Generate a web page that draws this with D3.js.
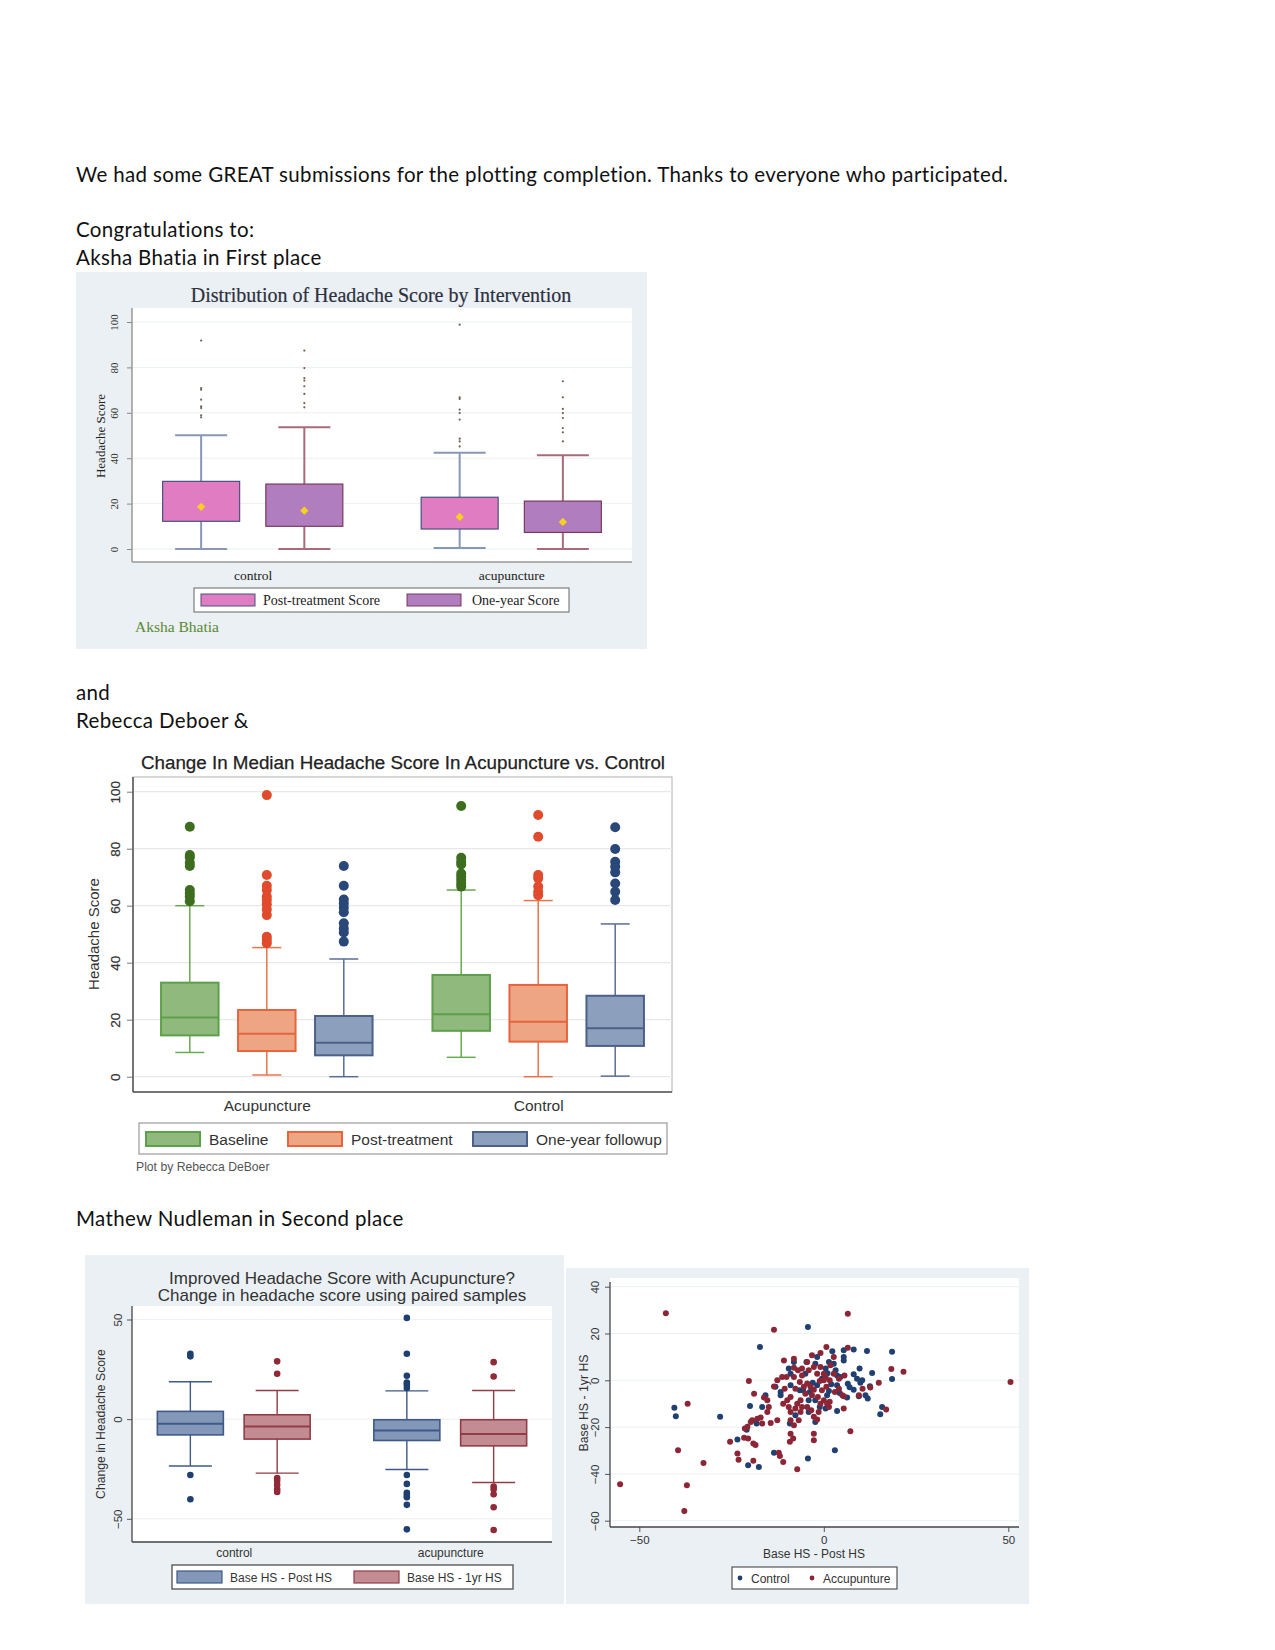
<!DOCTYPE html>
<html>
<head>
<meta charset="utf-8">
<script src="https://cdn.jsdelivr.net/npm/d3@7"></script>
<style>
body { margin: 0; background: #fff; }
svg { display: block; }
</style>
</head>
<body>
<div id="page"></div>
<script>
// ---------- chart 1 data (Aksha Bhatia)
const c1Groups = ["control", "acupuncture"];
const c1Series = ["Post-treatment Score", "One-year Score"];
const c1Ticks = [0, 20, 40, 60, 80, 100];
const c1Boxes = [
  {g: "control", s: "Post-treatment Score", lo: 0, q1: 12.2, q3: 29.8, hi: 50.1, mean: 18.6,
   out: [58, 58.9, 62.1, 62.8, 65.8, 70.2, 70.9, 91.8]},
  {g: "control", s: "One-year Score", lo: 0, q1: 10, q3: 28.6, hi: 53.6, mean: 16.9,
   out: [62.4, 64.3, 68.3, 71.7, 74.2, 75.3, 79.7, 87.4]},
  {g: "acupuncture", s: "Post-treatment Score", lo: 0.4, q1: 8.8, q3: 22.8, hi: 42.4, mean: 14.1,
   out: [45.2, 47.4, 48.6, 57, 59.9, 61.4, 66.1, 66.8, 98.8]},
  {g: "acupuncture", s: "One-year Score", lo: 0, q1: 7.3, q3: 21.1, hi: 41.3, mean: 11.9,
   out: [47.4, 51.4, 53.3, 57.7, 59.9, 61.7, 66.8, 73.9]}
];

// ---------- chart 2 data (Rebecca DeBoer)
const c2Groups = ["Acupuncture", "Control"];
const c2Series = ["Baseline", "Post-treatment", "One-year followup"];
const c2Ticks = [0, 20, 40, 60, 80, 100];
const c2Boxes = [
  {g: "Acupuncture", s: "Baseline", lo: 8.5, q1: 14.5, med: 20.8, q3: 33.0, hi: 60.0,
   out: [61.6, 63.2, 64.3, 65.5, 73.9, 75.1, 77, 77.8, 87.7]},
  {g: "Acupuncture", s: "Post-treatment", lo: 0.6, q1: 9.0, med: 15.1, q3: 23.4, hi: 45.3,
   out: [46.8, 48, 49.1, 56.7, 58.7, 60.5, 62, 63.2, 65.5, 67, 70.8, 98.8]},
  {g: "Acupuncture", s: "One-year followup", lo: 0, q1: 7.5, med: 11.9, q3: 21.3, hi: 41.3,
   out: [47.4, 50.6, 52, 53.8, 57.7, 59.3, 60.8, 62.2, 67, 73.9]},
  {g: "Control", s: "Baseline", lo: 6.8, q1: 16.1, med: 21.9, q3: 35.7, hi: 65.5,
   out: [66.7, 67.8, 69, 70.2, 71.3, 74.5, 75.4, 76.8, 95]},
  {g: "Control", s: "Post-treatment", lo: 0, q1: 12.3, med: 19.3, q3: 32.2, hi: 61.8,
   out: [63.7, 64.9, 66.7, 69.6, 70.8, 84.2, 91.8]},
  {g: "Control", s: "One-year followup", lo: 0.2, q1: 10.8, med: 17.0, q3: 28.4, hi: 53.6,
   out: [62, 64.9, 67.8, 71.7, 73.7, 75.4, 79.9, 87.5]}
];

// ---------- chart 3 data (Mathew Nudleman, boxes)
const c3Groups = ["control", "acupuncture"];
const c3Series = ["Base HS - Post HS", "Base HS - 1yr HS"];
const c3Ticks = [-50, 0, 50];
const c3Boxes = [
  {g: "control", s: "Base HS - Post HS", lo: -23.5, q1: -7.9, med: -2.3, q3: 3.9, hi: 18.8,
   out: [32.8, 31.5, -28, -40.2]},
  {g: "control", s: "Base HS - 1yr HS", lo: -27.1, q1: -10, med: -3.7, q3: 2.2, hi: 14.4,
   out: [29, 22.8, -29.6, -31, -33, -35.2, -36.5]},
  {g: "acupuncture", s: "Base HS - Post HS", lo: -25.3, q1: -10.7, med: -5.7, q3: -0.3, hi: 14.2,
   out: [50.8, 32.8, 21.8, 18.4, 17.3, 15.6, -28, -32.5, -36.9, -38, -39.2, -43, -55.3]},
  {g: "acupuncture", s: "Base HS - 1yr HS", lo: -31.8, q1: -13.4, med: -7.5, q3: -0.3, hi: 14.4,
   out: [28.6, 21.4, -33.8, -35.2, -37.7, -44.2, -55.6]}
];

// ---------- chart 4 data (Mathew Nudleman, scatter) [Base-Post, Base-1yr]
const c4XTicks = [-50, 0, 50];
const c4YTicks = [-60, -40, -20, 0, 20, 40];
const controlPts = [
  [-4.3,22.8],[-17.3,14.2],[-40.5,-11.7],[-40.1,-15.4],[-28.1,-15.6],[18.5,12.2],[18.5,0.6],[11.7,12.5],
  [8.1,13.2],[5.4,12.8],[5.4,10],[5.4,8.5],[2.3,12.4],[-1.8,10],[-4.7,7.8],[-8.1,7.8],[13.1,3.1],[9.7,5],
  [8.1,2.6],[9,0.7],[9.9,-1.1],[10.4,0],[8.1,-4],[9.5,-6.8],[11.3,-6.4],[11.9,-7.8],[15.8,-11.4],[15.3,-14.5],
  [4.3,-5.4],[3.6,-13.1],[3,-29.9],[-4.3,-33.4],[-17.6,-37],[-20.5,-36.3],[-13.5,-31],[-23.4,-25.3],[-20,-11],
  [-20.9,-21.1],[-18.2,-18.5],[-15.8,-6.4],[-16.7,-11.4],[-13.1,-2.8],[-11.7,-5],[-11.7,-6.4],[-9.2,-18.5],
  [-7.7,-14.9],[-6.5,-4.3],[-9,2.8],[-9.5,5],[-5,2.8],[-3.8,-5],[-4.1,-8.5],[-4.1,-13.5],[-2.3,-17.8],
  [-1.1,-11.4],[0.5,-12.1],[0.9,-6.4],[-1.8,-2.1],[-0.5,0.7],[0.5,5],[-2.3,7.1],[1.4,7.8],[2.7,7.1],[3.2,4.3],
  [3.6,2.1],[2,-1.7],[1.4,-4.6],[3.6,-2.1],[6.3,-7.4],[-5.6,-4.3],[-2.3,-8.5],[-9,-2.1],[4.5,1.4],[7,-3],
  [6.5,-1.5],[12.5,-2.5],[-3,-1],[1,3]
];
const acuPts = [
  [-42.8,28.7],[-13.5,21.6],[6.5,28.4],[-36.9,-10],[-39.5,-29.9],[-32.6,-35.3],[-37.1,-44.9],[-37.8,-55.9],
  [-55.2,-44.4],[50.6,-0.7],[21.6,3.7],[18.3,4.8],[6.5,13.9],[0.7,14.2],[-0.9,11.7],[-3.2,10.7],[-4.5,7.8],
  [-8.1,9.2],[-10.8,8.5],[10.5,-3.6],[12.6,-3.1],[14.9,-1.1],[9.5,-6.4],[16.9,-12.5],[5.6,2.1],[5.4,-6.8],
  [5.4,-12.1],[7.2,-21.8],[-7.2,-38],[-19.1,-34.4],[-11,-34.9],[-12.2,-31],[-11.9,-32.4],[-23.4,-31.3],
  [-23.1,-33.9],[-25.4,-26.3],[-21.6,-24.5],[-20.5,-24.9],[-19.1,-27],[-18.5,-27.7],[-18.9,-5.7],[-20.3,-0.3],
  [-21.4,-20.6],[-20.7,-19.9],[-19.8,-17.8],[-19.4,-17.1],[-18,-16.4],[-17.1,-15.9],[-16.7,-18.5],[-16.2,-7.4],
  [-15.3,-8.5],[-14.9,-11.4],[-15.3,-13.5],[-14.4,-18.2],[-12.6,-17.1],[-13.5,-2.6],[-12.6,0],[-10.6,-3.6],
  [-11,-10],[-9.9,-8.5],[-9,-7.1],[-9.5,-11.4],[-9,-13.5],[-9,-17.1],[-9,-22.8],[-8.3,-24.9],[-9.2,-26.3],
  [-8.1,-19.2],[-7.7,-12.1],[-7.2,-10],[-6.3,-8.5],[-5.9,-11.4],[-8.1,1.4],[-10.1,1.4],[-11.3,1.4],[-8.1,5.4],
  [-7,4.3],[-5.9,5],[-5.9,2.1],[-4.1,4.3],[-4.5,-1.4],[-3.6,-2.8],[-2.7,-4],[-3.2,-6.4],[-4.5,-11.4],
  [-3.4,-12.8],[-2.7,-15.6],[-1.8,-16.8],[-2.7,-22.8],[-2.7,-25.6],[-1.6,-7.1],[-0.9,-10],[0,-8.5],[0.9,-10],
  [1.6,-9.2],[1.4,-11.4],[-1.1,-0.3],[0.5,1.4],[0,2.8],[-0.9,5.7],[-1.8,2.8],[-2.7,5.7],[1.8,6.4],[2.7,2.8],
  [1.6,0],[0.7,-2.8],[3,-5],[4.1,-3.6],[5,-6.4],[2.7,10],[4.1,0.7],[-6.5,-0.7],[-5.4,-2.8],[-5,-5.7],
  [-1.4,-13.5],[-6.3,-13.5],[-7.7,-3.6],[0,0],[-0.5,-4.3],[-6.8,-17.1]
];

const svg = d3.select("#page").append("svg")
  .attr("width", 1275)
  .attr("height", 1650);

// ---------- page text
const bodyFont = "Lato, 'Open Sans', sans-serif";
function para(txt, y) {
  svg.append("text").attr("x", 76).attr("y", y)
    .style("font-family", bodyFont).style("font-size", "20.5px")
    .style("letter-spacing", "0.35px").style("fill", "#111")
    .text(txt);
}
para("We had some GREAT submissions for the plotting completion. Thanks to everyone who participated.", 182);
para("Congratulations to:", 237);
para("Aksha Bhatia in First place", 265);
para("and", 700);
para("Rebecca Deboer &", 728);
para("Mathew Nudleman in Second place", 1226);

// helper: rotated y tick labels like stata
function rotLabels(ax, off) {
  ax.selectAll(".tick text")
    .attr("transform", "rotate(-90)")
    .attr("x", 0).attr("y", -off).attr("dy", 0)
    .attr("text-anchor", "middle");
}

// generic box drawing
function drawBoxes(g, boxes, xg, xs, y, bw, cw, sty) {
  const cx = d => xg(d.g) + xs(d.s);
  const b = g.selectAll(null).data(boxes).join("g");
  b.append("line")
    .attr("x1", cx).attr("x2", cx)
    .attr("y1", d => y(d.hi)).attr("y2", d => y(d.q3))
    .attr("stroke", d => sty[d.s].whisk).attr("stroke-width", sty.lw);
  b.append("line")
    .attr("x1", cx).attr("x2", cx)
    .attr("y1", d => y(d.q1)).attr("y2", d => y(d.lo))
    .attr("stroke", d => sty[d.s].whisk).attr("stroke-width", sty.lw);
  b.append("line")
    .attr("x1", d => cx(d) - cw / 2).attr("x2", d => cx(d) + cw / 2)
    .attr("y1", d => y(d.hi)).attr("y2", d => y(d.hi))
    .attr("stroke", d => sty[d.s].whisk).attr("stroke-width", sty.lw);
  b.append("line")
    .attr("x1", d => cx(d) - cw / 2).attr("x2", d => cx(d) + cw / 2)
    .attr("y1", d => y(d.lo)).attr("y2", d => y(d.lo))
    .attr("stroke", d => sty[d.s].whisk).attr("stroke-width", sty.lw);
  b.append("rect")
    .attr("x", d => cx(d) - bw / 2).attr("width", bw)
    .attr("y", d => y(d.q3)).attr("height", d => y(d.q1) - y(d.q3))
    .attr("fill", d => sty[d.s].fill)
    .attr("stroke", d => sty[d.s].edge).attr("stroke-width", sty.bw);
  if (sty.median) {
    b.append("line")
      .attr("x1", d => cx(d) - bw / 2).attr("x2", d => cx(d) + bw / 2)
      .attr("y1", d => y(d.med)).attr("y2", d => y(d.med))
      .attr("stroke", d => sty[d.s].edge).attr("stroke-width", sty.mw);
  }
  b.selectAll("circle")
    .data(d => d.out.map(v => ({v: v, d: d})))
    .join("circle")
    .attr("cx", o => cx(o.d))
    .attr("cy", o => y(o.v))
    .attr("r", sty.r)
    .attr("fill", o => sty[o.d.s].dot);
  return cx;
}

// =================== CHART 1 ===================
{
  const g = svg.append("g");
  const serif = "'Liberation Serif', 'DejaVu Serif', serif";
  g.append("rect").attr("x", 76).attr("y", 272).attr("width", 571).attr("height", 377).attr("fill", "#eaf0f3");
  g.append("rect").attr("x", 132).attr("y", 308).attr("width", 500).attr("height", 254).attr("fill", "#fff");

  const xg = d3.scalePoint().domain(c1Groups).range([132, 632]).padding(0.467);
  const xs = d3.scalePoint().domain(c1Series).range([-51.6, 51.6]);
  const y = d3.scaleLinear().domain([0, 100]).range([549, 322]);

  g.append("g").selectAll("line").data(c1Ticks).join("line")
    .attr("x1", 132).attr("x2", 632)
    .attr("y1", d => y(d)).attr("y2", d => y(d))
    .attr("stroke", "#eaf0f3").attr("stroke-width", 1);

  const ax = g.append("g").attr("transform", "translate(132,0)")
    .call(d3.axisLeft(y).tickValues(c1Ticks).tickSize(5).tickPadding(3));
  ax.select(".domain").remove();
  ax.selectAll(".tick line").attr("stroke", "#888");
  ax.selectAll(".tick text").style("font-family", serif).style("font-size", "11px").style("fill", "#333");
  rotLabels(ax, 13.7);
  g.append("line").attr("x1", 132).attr("x2", 132).attr("y1", 308).attr("y2", 562).attr("stroke", "#999").attr("stroke-width", 1.5);
  g.append("line").attr("x1", 132).attr("x2", 632).attr("y1", 562).attr("y2", 562).attr("stroke", "#999").attr("stroke-width", 1.5);

  const axb = g.append("g").attr("transform", "translate(0,562)")
    .call(d3.axisBottom(xg).tickSize(0).tickPadding(8));
  axb.select(".domain").remove();
  axb.selectAll("text").style("font-family", serif).style("font-size", "13.5px").style("fill", "#222");

  const sty = {
    "Post-treatment Score": {fill: "#e07cc2", edge: "#4a5280", whisk: "#8797b6", dot: "#6c6258"},
    "One-year Score": {fill: "#b07dbf", edge: "#7a3a5a", whisk: "#a86b7b", dot: "#7a5a4a"},
    lw: 2, bw: 1.2, r: 1.1, median: false
  };
  const cx = drawBoxes(g, c1Boxes, xg, xs, y, 77, 52, sty);

  g.selectAll(".mean").data(c1Boxes).join("path")
    .attr("class", "mean")
    .attr("d", d3.symbol(d3.symbolSquare, 34))
    .attr("transform", d => `translate(${cx(d)},${y(d.mean)}) rotate(45)`)
    .attr("fill", "#f6d21c");

  g.append("text").attr("x", 381).attr("y", 302).attr("text-anchor", "middle")
    .style("font-family", serif).style("font-size", "20px").style("fill", "#2d3040")
    .style("stroke", "#2d3040").style("stroke-width", 0.2)
    .text("Distribution of Headache Score by Intervention");
  g.append("text").attr("transform", "translate(100,436) rotate(-90)").attr("text-anchor", "middle").attr("dy", "0.35em")
    .style("font-family", serif).style("font-size", "13px").style("fill", "#222")
    .text("Headache Score");

  // legend
  g.append("rect").attr("x", 194).attr("y", 588).attr("width", 375).attr("height", 24)
    .attr("fill", "#fff").attr("stroke", "#666");
  const lx = [201, 410];
  c1Series.forEach((s, i) => {
    g.append("rect").attr("x", lx[i] - (i ? 3 : 0)).attr("y", 594).attr("width", 54).attr("height", 12)
      .attr("fill", sty[s].fill).attr("stroke", sty[s].edge);
    g.append("text").attr("x", lx[i] + 62).attr("y", 604.5)
      .style("font-family", serif).style("font-size", "14px").style("fill", "#222").text(s);
  });
  g.append("text").attr("x", 135).attr("y", 632)
    .style("font-family", serif).style("font-size", "15.5px").style("fill", "#5b8a35")
    .text("Aksha Bhatia");
}

// =================== CHART 2 ===================
{
  const g = svg.append("g");
  const sans = "'Liberation Sans', Arial, sans-serif";
  const xg = d3.scalePoint().domain(c2Groups).range([133, 672]).padding(0.493);
  const xs = d3.scalePoint().domain(c2Series).range([-77, 77]);
  const y = d3.scaleLinear().domain([0, 100]).range([1076.7, 791.7]);

  g.append("rect").attr("x", 133).attr("y", 777).attr("width", 539).attr("height", 315)
    .attr("fill", "#fff").attr("stroke", "#b0b0b0");
  g.append("g").selectAll("line").data(c2Ticks).join("line")
    .attr("x1", 133).attr("x2", 672)
    .attr("y1", d => y(d)).attr("y2", d => y(d))
    .attr("stroke", "#e8e8e8").attr("stroke-width", 1.2);

  const ax = g.append("g").attr("transform", "translate(133,0)")
    .call(d3.axisLeft(y).tickValues(c2Ticks).tickSize(6).tickPadding(3));
  ax.select(".domain").remove();
  ax.selectAll(".tick line").attr("stroke", "#777");
  ax.selectAll(".tick text").style("font-family", sans).style("font-size", "13.5px").style("fill", "#333")
    .style("stroke", "#333").style("stroke-width", 0.2);
  rotLabels(ax, 13);
  g.append("line").attr("x1", 133).attr("x2", 133).attr("y1", 777).attr("y2", 1092).attr("stroke", "#555").attr("stroke-width", 1.5);
  g.append("line").attr("x1", 133).attr("x2", 672).attr("y1", 1092).attr("y2", 1092).attr("stroke", "#555").attr("stroke-width", 1.5);

  const axb = g.append("g").attr("transform", "translate(0,1092)")
    .call(d3.axisBottom(xg).tickSize(0).tickPadding(8));
  axb.select(".domain").remove();
  axb.selectAll("text").style("font-family", sans).style("font-size", "15.5px").style("fill", "#333");

  const sty = {
    "Baseline": {fill: "#8fb97d", edge: "#5e9f4a", whisk: "#6aa855", dot: "#3d6e1f"},
    "Post-treatment": {fill: "#eda584", edge: "#e6653d", whisk: "#e8744c", dot: "#e14b2d"},
    "One-year followup": {fill: "#8ca0be", edge: "#4c6088", whisk: "#5a6d93", dot: "#294878"},
    lw: 1.5, bw: 2, mw: 2, r: 5, median: true
  };
  drawBoxes(g, c2Boxes, xg, xs, y, 57.5, 29, sty);

  g.append("text").attr("x", 403).attr("y", 769).attr("text-anchor", "middle")
    .style("font-family", sans).style("font-size", "18.8px").style("fill", "#222")
    .style("stroke", "#222").style("stroke-width", 0.25)
    .text("Change In Median Headache Score In Acupuncture vs. Control");
  g.append("text").attr("transform", "translate(94,934) rotate(-90)").attr("text-anchor", "middle").attr("dy", "0.35em")
    .style("font-family", sans).style("font-size", "15px").style("fill", "#333")
    .text("Headache Score");

  g.append("rect").attr("x", 139).attr("y", 1123).attr("width", 528).attr("height", 31)
    .attr("fill", "#fff").attr("stroke", "#999").attr("stroke-width", 1.2);
  const lx = [146, 288, 473];
  c2Series.forEach((s, i) => {
    g.append("rect").attr("x", lx[i]).attr("y", 1132).attr("width", 54).attr("height", 14)
      .attr("fill", sty[s].fill).attr("stroke", sty[s].edge).attr("stroke-width", 2);
    g.append("text").attr("x", lx[i] + 63).attr("y", 1145)
      .style("font-family", sans).style("font-size", "15.5px").style("fill", "#333").text(s);
  });
  g.append("text").attr("x", 136).attr("y", 1171)
    .style("font-family", sans).style("font-size", "12.2px").style("fill", "#555")
    .text("Plot by Rebecca DeBoer");
}

// =================== CHART 3 ===================
{
  const g = svg.append("g");
  const sans = "'Liberation Sans', Arial, sans-serif";
  g.append("rect").attr("x", 85).attr("y", 1255).attr("width", 479).attr("height", 349).attr("fill", "#eaf0f3");
  g.append("rect").attr("x", 132).attr("y", 1306).attr("width", 420).attr("height", 236).attr("fill", "#fff");

  const xg = d3.scalePoint().domain(c3Groups).range([132, 552]).padding(0.47);
  const xs = d3.scalePoint().domain(c3Series).range([-43.4, 43.4]);
  const y = d3.scaleLinear().domain([-50, 50]).range([1518.8, 1319.5]);

  g.append("g").selectAll("line").data(c3Ticks).join("line")
    .attr("x1", 132).attr("x2", 552)
    .attr("y1", d => y(d)).attr("y2", d => y(d))
    .attr("stroke", "#eaf0f3").attr("stroke-width", 1);

  const ax = g.append("g").attr("transform", "translate(132,0)")
    .call(d3.axisLeft(y).tickValues(c3Ticks).tickSize(5).tickPadding(3));
  ax.select(".domain").remove();
  ax.selectAll(".tick line").attr("stroke", "#555");
  ax.selectAll(".tick text").style("font-family", sans).style("font-size", "11.5px").style("fill", "#333");
  rotLabels(ax, 10.3);
  g.append("line").attr("x1", 132).attr("x2", 132).attr("y1", 1306).attr("y2", 1542).attr("stroke", "#444").attr("stroke-width", 1.3);
  g.append("line").attr("x1", 132).attr("x2", 552).attr("y1", 1542).attr("y2", 1542).attr("stroke", "#444").attr("stroke-width", 1.3);

  const axb = g.append("g").attr("transform", "translate(0,1542)")
    .call(d3.axisBottom(xg).tickSize(0).tickPadding(6));
  axb.select(".domain").remove();
  axb.selectAll("text").style("font-family", sans).style("font-size", "12px").style("fill", "#333");

  const sty = {
    "Base HS - Post HS": {fill: "#8397b9", edge: "#3f5a86", whisk: "#3f5a86", dot: "#1f3f70"},
    "Base HS - 1yr HS": {fill: "#c38c92", edge: "#913c47", whisk: "#913c47", dot: "#8f2a36"},
    lw: 1.4, bw: 1.6, mw: 2, r: 3.3, median: true
  };
  drawBoxes(g, c3Boxes, xg, xs, y, 66, 43, sty);

  g.append("text").attr("x", 342).attr("y", 1284).attr("text-anchor", "middle")
    .style("font-family", sans).style("font-size", "17px").style("fill", "#333")
    .text("Improved Headache Score with Acupuncture?");
  g.append("text").attr("x", 342).attr("y", 1301).attr("text-anchor", "middle")
    .style("font-family", sans).style("font-size", "17px").style("fill", "#333")
    .text("Change in headache score using paired samples");
  g.append("text").attr("transform", "translate(101,1424) rotate(-90)").attr("text-anchor", "middle").attr("dy", "0.35em")
    .style("font-family", sans).style("font-size", "12.2px").style("fill", "#333")
    .text("Change in Headache Score");

  g.append("rect").attr("x", 172).attr("y", 1565).attr("width", 341).attr("height", 24)
    .attr("fill", "#fff").attr("stroke", "#666").attr("stroke-width", 1.5);
  const lx = [177, 354];
  c3Series.forEach((s, i) => {
    g.append("rect").attr("x", lx[i]).attr("y", 1571).attr("width", 45).attr("height", 12)
      .attr("fill", sty[s].fill).attr("stroke", sty[s].edge).attr("stroke-width", 1.2);
    g.append("text").attr("x", lx[i] + 53).attr("y", 1581.5)
      .style("font-family", sans).style("font-size", "12px").style("fill", "#333").text(s);
  });
}

// =================== CHART 4 ===================
{
  const g = svg.append("g");
  const sans = "'Liberation Sans', Arial, sans-serif";
  g.append("rect").attr("x", 566).attr("y", 1268).attr("width", 463).attr("height", 336).attr("fill", "#eaf0f3");
  g.append("rect").attr("x", 610).attr("y", 1278).attr("width", 409).attr("height", 249).attr("fill", "#fff");

  const x = d3.scaleLinear().domain([-50, 50]).range([639.3, 1008.3]);
  const y = d3.scaleLinear().domain([-60, 40]).range([1520.7, 1286.7]);

  g.append("g").selectAll("line").data(c4YTicks).join("line")
    .attr("x1", 610).attr("x2", 1019)
    .attr("y1", d => y(d)).attr("y2", d => y(d))
    .attr("stroke", "#eaf0f3").attr("stroke-width", 1);

  const ax = g.append("g").attr("transform", "translate(610,0)")
    .call(d3.axisLeft(y).tickValues(c4YTicks).tickSize(5).tickPadding(3));
  ax.select(".domain").remove();
  ax.selectAll(".tick line").attr("stroke", "#555");
  ax.selectAll(".tick text").style("font-family", sans).style("font-size", "11.5px").style("fill", "#333");
  rotLabels(ax, 11.3);

  const axb = g.append("g").attr("transform", "translate(0,1527)")
    .call(d3.axisBottom(x).tickValues(c4XTicks).tickSize(5).tickPadding(4));
  axb.select(".domain").remove();
  axb.selectAll(".tick line").attr("stroke", "#555");
  axb.selectAll("text").style("font-family", sans).style("font-size", "11.5px").style("fill", "#333");

  g.append("line").attr("x1", 610).attr("x2", 610).attr("y1", 1282).attr("y2", 1527).attr("stroke", "#444").attr("stroke-width", 1.3);
  g.append("line").attr("x1", 610).attr("x2", 1019).attr("y1", 1527).attr("y2", 1527).attr("stroke", "#444").attr("stroke-width", 1.3);

  g.append("g").selectAll("circle").data(controlPts).join("circle")
    .attr("cx", d => x(d[0])).attr("cy", d => y(d[1])).attr("r", 3).attr("fill", "#1f4070");
  g.append("g").selectAll("circle").data(acuPts).join("circle")
    .attr("cx", d => x(d[0])).attr("cy", d => y(d[1])).attr("r", 3).attr("fill", "#8c2636");

  g.append("text").attr("x", 814).attr("y", 1558).attr("text-anchor", "middle")
    .style("font-family", sans).style("font-size", "12px").style("fill", "#333")
    .text("Base HS - Post HS");
  g.append("text").attr("transform", "translate(584,1403) rotate(-90)").attr("text-anchor", "middle").attr("dy", "0.35em")
    .style("font-family", sans).style("font-size", "12.3px").style("fill", "#333")
    .text("Base HS - 1yr HS");

  g.append("rect").attr("x", 732).attr("y", 1567).attr("width", 165).attr("height", 22)
    .attr("fill", "#fff").attr("stroke", "#555").attr("stroke-width", 1.2);
  const leg = [["Control", "#1f4070", 740], ["Accupunture", "#8c2636", 812]];
  leg.forEach(l => {
    g.append("circle").attr("cx", l[2]).attr("cy", 1578).attr("r", 2.4).attr("fill", l[1]);
    g.append("text").attr("x", l[2] + 11).attr("y", 1582.5)
      .style("font-family", sans).style("font-size", "12px").style("fill", "#333").text(l[0]);
  });
}
</script>
</body>
</html>
